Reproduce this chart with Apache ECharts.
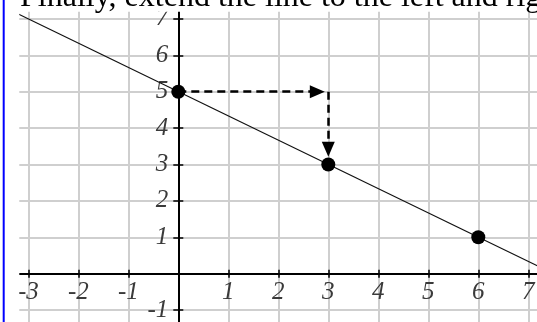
<!DOCTYPE html>
<html>
<head>
<meta charset="utf-8">
<script src="https://cdn.jsdelivr.net/npm/echarts@6/dist/echarts.min.js"></script>
<style>
  html, body { margin: 0; padding: 0; background: #fff; }
  #main { width: 537px; height: 322px; }
</style>
</head>
<body>
<div id="main"></div>
<script>
// line y = 5 - 2/3 x, read at the ends of the axis range
var lineX = [-4, 8];
var lineY = [7.67, -0.33];

// the three plotted points
var pointX = [0, 3, 6];
var pointY = [5, 3, 1];

// dashed arrows: over 3, down 2 (end values sit at arrowhead centre)
var arrowOver = [[0, 5], [2.78, 5]];
var arrowDown = [[3, 5], [3, 3.42]];

var caption = 'Finally, extend the line to the left and right';

var labelFont = {
    color: '#3a3a3a',
    fontFamily: '"Liberation Serif", serif',
    fontStyle: 'italic',
    fontSize: 25
};

function tickLabel(v) {
    return v === 0 ? '' : String(v);
}

// main grid: gridlines, axis lines through zero, ticks on both sides
function xAxisOf(pos, grid) {
    return {
        type: 'value', gridIndex: 0, position: pos, min: -4, max: 8, interval: 1,
        axisLine: { show: true, onZero: true, lineStyle: { color: '#000', width: 2 } },
        axisTick: { show: true, length: 4, lineStyle: { color: '#000', width: 1.5 } },
        axisLabel: { show: false },
        splitLine: { show: grid, lineStyle: { color: '#cfcfcf', width: 2 } }
    };
}

function yAxisOf(pos, grid) {
    return {
        type: 'value', gridIndex: 0, position: pos, min: -2, max: 8, interval: 1,
        axisLine: { show: true, onZero: true, lineStyle: { color: '#000', width: 2 } },
        axisTick: { show: true, length: 5, lineStyle: { color: '#000', width: 1.5 } },
        axisLabel: { show: false },
        splitLine: { show: grid, lineStyle: { color: '#cfcfcf', width: 2 } }
    };
}

var hidden = { show: false };

var myChart = echarts.init(document.getElementById('main'));

var option = {
    animation: false,
    backgroundColor: '#fff',
    grid: [
        { left: -21.7, top: -17.5, width: 600, height: 364, outerBoundsMode: 'none' },
        // label strips: bottom edge on y = 0, left edge on x = 0
        { left: -21.7, top: 0, width: 600, height: 273.7, outerBoundsMode: 'none' },
        { left: 178.3, top: -17.5, width: 300, height: 364, outerBoundsMode: 'none' }
    ],
    xAxis: [
        xAxisOf('bottom', true),
        xAxisOf('top', false),
        {
            type: 'value', gridIndex: 1, position: 'bottom', min: -4, max: 8, interval: 1,
            axisLine: { show: false, onZero: false }, axisTick: hidden, splitLine: hidden,
            axisLabel: Object.assign({ margin: 6, formatter: tickLabel }, labelFont)
        },
        { type: 'value', gridIndex: 2, min: 0, max: 1, show: false }
    ],
    yAxis: [
        yAxisOf('left', true),
        yAxisOf('right', false),
        { type: 'value', gridIndex: 1, min: 0, max: 1, show: false },
        {
            type: 'value', gridIndex: 2, position: 'left', min: -2, max: 8, interval: 1,
            axisLine: { show: false, onZero: false }, axisTick: hidden, splitLine: hidden,
            axisLabel: Object.assign({ margin: 10, formatter: tickLabel }, labelFont)
        }
    ],
    series: [
        {
            type: 'line',
            xAxisIndex: 0, yAxisIndex: 0,
            data: lineX.map(function (x, i) { return [x, lineY[i]]; }),
            showSymbol: false,
            lineStyle: { color: '#111', width: 1.2 },
            z: 2,
            markLine: {
                silent: true,
                symbol: ['none', 'triangle'],
                symbolSize: [13, 15],
                label: { show: false },
                lineStyle: { color: '#000', width: 2.5, type: [8, 5] },
                itemStyle: { color: '#000' },
                data: [
                    [{ coord: arrowOver[0] }, { coord: arrowOver[1] }],
                    [{ coord: arrowDown[0] }, { coord: arrowDown[1] }]
                ]
            }
        },
        {
            type: 'scatter',
            xAxisIndex: 0, yAxisIndex: 0,
            data: pointX.map(function (x, i) { return [x, pointY[i]]; }),
            symbol: 'circle',
            symbolSize: 14,
            itemStyle: { color: '#000', opacity: 1 },
            z: 5
        }
    ],
    graphic: [
        { type: 'rect', z: 100, shape: { x: 0, y: 0, width: 19.3, height: 322 }, style: { fill: '#fff' } },
        { type: 'rect', z: 100, shape: { x: 0, y: 0, width: 537, height: 11.7 }, style: { fill: '#fff' } },
        { type: 'rect', z: 101, shape: { x: 2.7, y: 0, width: 2, height: 322 }, style: { fill: '#0000ff' } },
        {
            type: 'text', z: 102, x: 20, y: -2,
            style: {
                text: caption,
                font: '32px "Liberation Serif"',
                fill: '#000',
                verticalAlign: 'middle'
            }
        }
    ]
};

myChart.setOption(option);
</script>
</body>
</html>
